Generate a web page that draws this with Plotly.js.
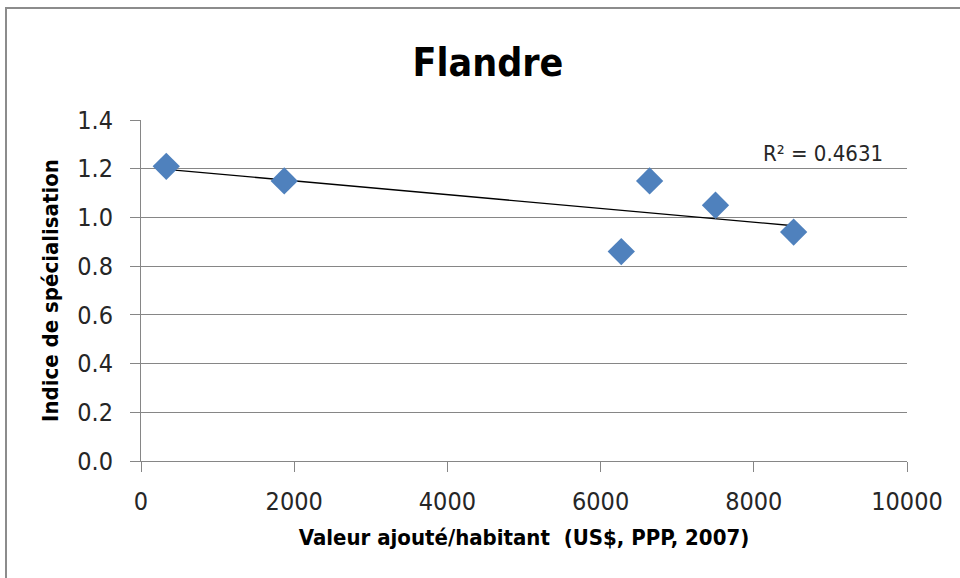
<!DOCTYPE html>
<html>
<head>
<meta charset="utf-8">
<script src="https://cdn.plot.ly/plotly-3.0.1.min.js"></script>
<style>
html,body{margin:0;padding:0;background:#fff;overflow:hidden;}
#wrap{position:relative;width:960px;height:578px;}
#chart{position:absolute;left:0;top:0;width:960px;height:578px;}
#frame{position:absolute;left:5px;top:7px;width:1000px;height:1000px;border-left:2px solid #8c8c8c;border-top:2px solid #8c8c8c;pointer-events:none;}
</style>
</head>
<body>
<div id="wrap"><div id="chart"></div><div id="frame"></div></div>
<script>
// Data
const valeurAjoutee = [330, 1870, 6270, 6640, 7500, 8520];
const indiceSpecialisation = [1.21, 1.15, 0.86, 1.15, 1.05, 0.94];
const chartTitle = 'Flandre';
const xTitle = 'Valeur ajouté/habitant  (US$, PPP, 2007)';
const yTitle = 'Indice de spécialisation';
const r2Label = 'R² = 0.4631';

// Linear least-squares trendline (as Excel)
const n = valeurAjoutee.length;
const mx = valeurAjoutee.reduce((a,b)=>a+b,0)/n;
const my = indiceSpecialisation.reduce((a,b)=>a+b,0)/n;
let sxy=0, sxx=0;
for(let i=0;i<n;i++){sxy+=(valeurAjoutee[i]-mx)*(indiceSpecialisation[i]-my);sxx+=(valeurAjoutee[i]-mx)**2;}
const slope = sxy/sxx, intercept = my - slope*mx;
const xmin = Math.min(...valeurAjoutee), xmax = Math.max(...valeurAjoutee);
const trendX = [xmin, xmax];
const trendY = trendX.map(x=>intercept+slope*x);

const FONT = 'Liberation Sans Narrow, Arial Narrow, DejaVu Sans Condensed, Liberation Sans, sans-serif';
const GRID = '#868686';

const traces = [
  {x: trendX, y: trendY, mode:'lines', type:'scatter', line:{color:'#000000', width:1.3}, hoverinfo:'skip', showlegend:false},
  {x: valeurAjoutee, y: indiceSpecialisation, mode:'markers', type:'scatter',
   marker:{symbol:'diamond', size:21, color:'#4F81BD', line:{width:0}}, showlegend:false}
];

const layout = {
  width:960, height:578,
  paper_bgcolor:'rgba(0,0,0,0)', plot_bgcolor:'rgba(0,0,0,0)',
  margin:{l:141, r:53, t:120, b:117},
  font:{family:FONT, color:'#262626'},
  title:{text:chartTitle, font:{family:FONT, size:39, color:'#000000', weight:'bold'}, x:488/960, xanchor:'center', y:1-62/578, yanchor:'middle', xref:'container', yref:'container'},
  xaxis:{range:[0,10000], dtick:2000, tick0:0, tickformat:'d', showgrid:false, zeroline:false,
    showline:true, linecolor:GRID, linewidth:1, ticks:'outside', ticklen:10, tickcolor:GRID, tickwidth:1,
    ticklabelstandoff:8,
    tickfont:{size:25, color:'#262626'},
    title:{text:xTitle, font:{size:22, color:'#000000', weight:'bold'}, standoff:14}},
  yaxis:{range:[0,1.4], dtick:0.2, tick0:0, tickformat:'.1f', showgrid:true, gridcolor:GRID, gridwidth:1, zeroline:false,
    showline:true, linecolor:GRID, linewidth:1, ticks:'outside', ticklen:10, tickcolor:GRID, tickwidth:1,
    ticklabelstandoff:12,
    tickfont:{size:25, color:'#262626'},
    title:{text:yTitle, font:{size:22, color:'#000000', weight:'bold'}, standoff:12}},
  annotations:[{text:r2Label, xref:'paper', yref:'paper', x:(885-141)/766, y:(461-153)/341, xanchor:'right', yanchor:'middle', showarrow:false, font:{size:22, color:'#262626'}}]
};

Plotly.newPlot('chart', traces, layout, {staticPlot:true, displayModeBar:false});
</script>
</body>
</html>
